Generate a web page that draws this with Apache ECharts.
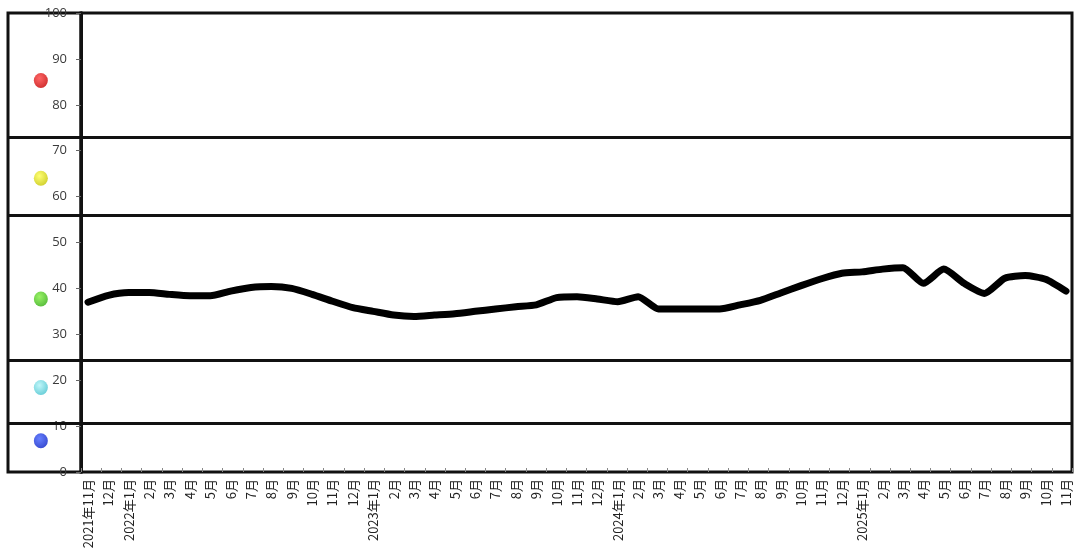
<!DOCTYPE html>
<html>
<head>
<meta charset="utf-8">
<script src="https://cdn.jsdelivr.net/npm/echarts@6/dist/echarts.min.js"></script>
<style>html,body{margin:0;padding:0;background:#fff}#c{width:1080px;height:556px}</style>
</head>
<body>
<div id="c"></div>
<script>
const months = ["2021年11月","12月","2022年1月","2月","3月","4月","5月","6月","7月","8月","9月","10月","11月","12月",
"2023年1月","2月","3月","4月","5月","6月","7月","8月","9月","10月","11月","12月",
"2024年1月","2月","3月","4月","5月","6月","7月","8月","9月","10月","11月","12月",
"2025年1月","2月","3月","4月","5月","6月","7月","8月","9月","10月","11月"];
const values = [37.0,38.5,39.1,39.1,38.7,38.4,38.4,39.4,40.2,40.4,40.0,38.7,37.2,35.8,
35.0,34.2,33.9,34.2,34.5,35.0,35.5,36.0,36.4,38.0,38.2,37.7,
37.1,38.2,35.5,35.5,35.5,35.5,36.4,37.4,39.0,40.6,42.1,43.3,
43.6,44.2,44.5,41.1,44.2,41.1,38.9,42.2,42.8,42.0,39.4];
const yTicks = [0,10,20,30,40,50,60,70,80,90,100];
const bandLines = [73, 56, 24.3, 10.7];
const dotValues = [85.3, 64.0, 37.7, 18.4, 6.8];
const dotColors = [["#ff4040","#c80000"],["#ffff50","#c8c800"],["#80f040","#34b010"],["#b0f4f8","#48c4d0"],["#4060ff","#0a22c8"]];

const chart = echarts.init(document.getElementById('c'));
const TOP = 13, H = 459;
const option = {
  backgroundColor: '#fff',
  animation: false,
  grid: [
    {left: 8, top: TOP, width: 73, height: H, show: true, borderColor: '#111', borderWidth: 3, backgroundColor: 'transparent'},
    {left: 81, top: TOP, width: 991, height: H, show: true, borderColor: '#111', borderWidth: 3, backgroundColor: 'transparent'},
    {left: 88, top: TOP, width: 978, height: H, show: false}
  ],
  xAxis: [
    {gridIndex: 0, type: 'value', min: 0, max: 1, show: false},
    {gridIndex: 1, type: 'category', data: months, boundaryGap: true,
      axisLine: {show: false}, axisLabel: {show: false},
      axisTick: {show: true, inside: true, interval: 0, length: 4, lineStyle: {color: '#888'}}},
    {gridIndex: 2, type: 'category', data: months, boundaryGap: false,
      axisLine: {show: false}, axisTick: {show: false},
      axisLabel: {rotate: 90, interval: 0, margin: 7, fontSize: 13, color: '#222',
        fontFamily: '"Noto Sans CJK SC", "Noto Sans", sans-serif'}}
  ],
  yAxis: [
    {gridIndex: 0, type: 'value', min: 0, max: 100, show: false},
    {gridIndex: 1, type: 'value', min: 0, max: 100, interval: 10,
      axisLine: {show: true, lineStyle: {color: '#111', width: 3}},
      axisTick: {show: true, length: 5, lineStyle: {color: '#666'}},
      splitLine: {show: false},
      axisLabel: {margin: 14, fontSize: 13, color: '#3a3a3a', fontFamily: '"Open Sans", "Noto Sans", sans-serif',
        formatter: v => yTicks.includes(v) ? String(v) : ''}},
    {gridIndex: 2, type: 'value', min: 0, max: 100, show: false}
  ],
  series: [
    {type: 'scatter', xAxisIndex: 0, yAxisIndex: 0, symbol: 'circle', symbolSize: [14, 15],
      data: dotValues.map((v, i) => ({value: [0.45, v], itemStyle: {color: new echarts.graphic.RadialGradient(0.4, 0.35, 0.65, [{offset: 0, color: dotColors[i][0]}, {offset: 1, color: dotColors[i][1]}])}})),
      markLine: {silent: true, symbol: 'none', label: {show: false}, lineStyle: {color: '#111', width: 3, type: 'solid'},
        data: bandLines.map(v => ({yAxis: v}))}},
    {type: 'line', xAxisIndex: 1, yAxisIndex: 1, data: [], silent: true,
      markLine: {silent: true, symbol: 'none', label: {show: false}, lineStyle: {color: '#111', width: 3, type: 'solid'},
        data: bandLines.map(v => ({yAxis: v}))}},
    {type: 'line', xAxisIndex: 2, yAxisIndex: 2, data: values, showSymbol: false, smooth: 0.2,
      lineStyle: {color: '#000', width: 7, cap: 'round', join: 'round'}}
  ]
};
chart.setOption(option);
</script>
</body>
</html>
